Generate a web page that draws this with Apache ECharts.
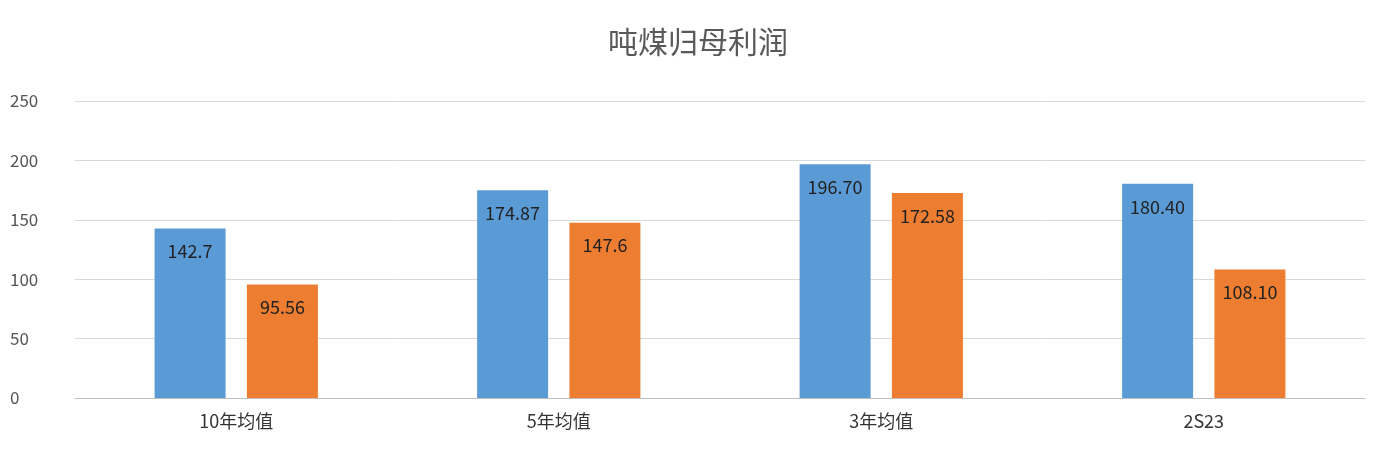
<!DOCTYPE html>
<html><head><meta charset="utf-8">
<script src="https://cdn.jsdelivr.net/npm/echarts@6/dist/echarts.min.js"></script>
<style>html,body{margin:0;padding:0;background:#fff}#c{width:1396px;height:454px}</style>
</head><body><div id="c"></div>
<script>
const categories = ['10年均值','5年均值','3年均值','2S23'];
const seriesA = [142.7, 174.87, 196.70, 180.40];
const seriesB = [95.56, 147.6, 172.58, 108.10];
const labelsA = ['142.7','174.87','196.70','180.40'];
const labelsB = ['95.56','147.6','172.58','108.10'];
const font = '"Noto Sans CJK SC","Noto Sans",sans-serif';
const chart = echarts.init(document.getElementById('c'));
function lab(arr){return {show:true,position:'insideTop',distance:14,fontSize:18,color:'#222',fontFamily:font,formatter:p=>arr[p.dataIndex]};}
chart.setOption({
  animation:false,
  title:{text:'吨煤归母利润',left:'center',top:22,textStyle:{fontSize:30,fontWeight:'normal',color:'#595959',fontFamily:font}},
  grid:{left:75,right:31,top:101,bottom:56},
  xAxis:{type:'category',data:categories,axisTick:{show:false},axisLine:{lineStyle:{color:'#bfbfbf'}},
    axisLabel:{fontSize:18,color:'#333',margin:14,fontFamily:font}},
  yAxis:{type:'value',min:0,max:250,interval:50,axisLabel:{fontSize:17,color:'#555',fontFamily:font,align:'left',margin:65},
    splitLine:{lineStyle:{color:'#d9d9d9'}}},
  series:[
    {type:'bar',data:seriesA,barWidth:71,barGap:'30%',itemStyle:{color:'#5b9bd5'},label:lab(labelsA)},
    {type:'bar',data:seriesB,barWidth:71,itemStyle:{color:'#ed7d31'},label:lab(labelsB)}
  ]
});
</script></body></html>
